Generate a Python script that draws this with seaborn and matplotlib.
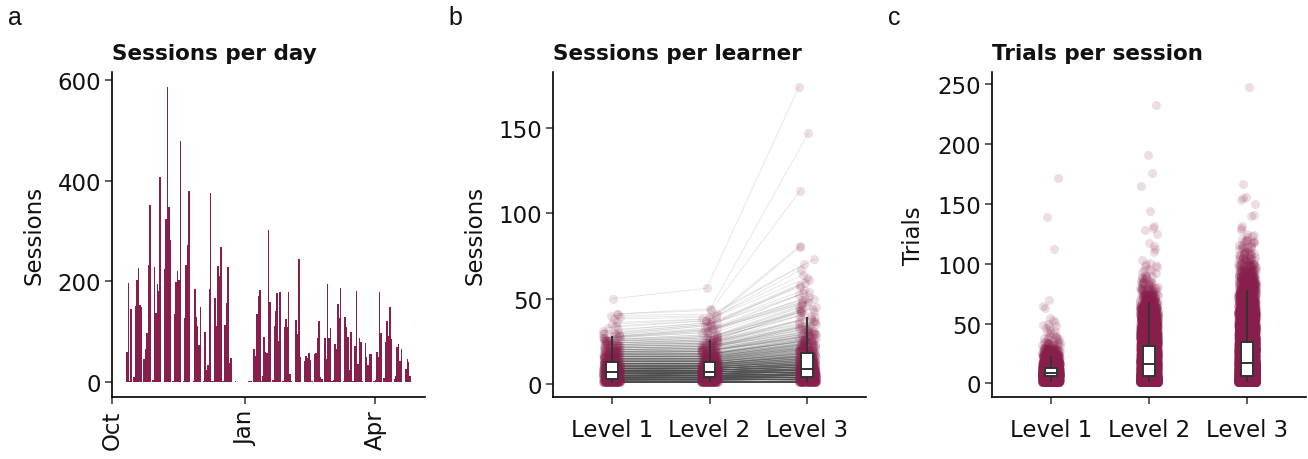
import numpy as np
import pandas as pd
import seaborn as sns
import matplotlib.pyplot as plt

maroon = '#881E4C'
levels = ['Level 1', 'Level 2', 'Level 3']

# a: sessions per day, one value per day starting 11 Oct
first_day = '2022-10-11'
daily_sessions = [
    59, 196, 3, 145, 0, 10, 152, 202, 226, 154,
    150, 0, 46, 65, 97, 232, 352, 0, 4, 228,
    137, 194, 180, 408, 0, 0, 224, 323, 586, 348,
    283, 0, 2, 135, 198, 220, 202, 479, 0, 2,
    127, 232, 273, 380, 0, 0, 2, 184, 129, 111,
    73, 150, 0, 2, 99, 24, 34, 184, 376, 2,
    2, 168, 111, 230, 210, 269, 2, 2, 113, 158,
    228, 38, 48, 0, 0, 2, 0, 0, 0, 0,
    0, 0, 0, 0, 2, 2, 2, 0, 65, 53,
    135, 172, 182, 2, 12, 89, 59, 57, 301, 160,
    0, 4, 111, 141, 176, 81, 178, 0, 2, 109,
    125, 109, 178, 16, 2, 0, 0, 123, 95, 244,
    50, 0, 0, 42, 53, 48, 57, 44, 2, 0,
    55, 57, 87, 121, 10, 6, 0, 87, 46, 194,
    87, 107, 2, 4, 75, 65, 156, 127, 186, 0,
    2, 129, 109, 89, 24, 99, 2, 2, 71, 180,
    36, 87, 79, 2, 0, 77, 50, 34, 55, 55,
    0, 2, 4, 59, 51, 178, 97, 0, 8, 79,
    121, 91, 150, 85, 0, 6, 12, 69, 75, 42,
    65, 0, 0, 26, 46, 40, 12,
]
month_ticks = ['2022-10-01', '2023-01-01', '2023-04-01']

# b: sessions per learner -> number of learners with 1, 2, 3, ... sessions, plus sparse tail
sess_counts_l1 = [52, 48, 44, 41, 39, 36, 33, 30, 26, 23, 20, 18, 16, 14, 13,
                  12, 11, 10, 9, 8, 7, 6, 6, 5, 5, 4, 4, 3, 3, 2]
sess_tail_l1 = [31, 32, 33, 34, 35, 36, 38, 39, 40, 41, 41, 50]
sess_counts_l2 = [50, 45, 42, 40, 38, 36, 34, 32, 28, 25, 21, 18, 16, 14, 13,
                  12, 10, 9, 8, 7, 6, 6, 5, 5, 4, 4, 3, 3, 2, 2]
sess_tail_l2 = [31, 31, 32, 32, 33, 33, 34, 34, 35, 35, 36, 36, 37, 37, 38, 38,
                39, 40, 41, 43, 44, 56]
sess_counts_l3 = [45, 40, 36, 33, 31, 29, 27, 25, 23, 21, 19, 17, 15, 14, 13,
                  12, 11, 10, 9, 9, 8, 8, 7, 7, 6, 6, 5, 5, 4, 4,
                  4, 3, 3, 3, 2, 2, 2, 2, 2, 1]
sess_tail_l3 = [41, 42, 42, 42, 43, 43, 44, 44, 45, 45, 46, 46, 47, 48, 48, 49,
                50, 50, 51, 52, 53, 54, 55, 57, 58, 59, 61, 62, 64, 67, 70, 73,
                80, 81, 113, 147, 174]

# c: trials per session -> sessions per 5-trial bin (1-5, 6-10, ...), plus sparse tail
trial_bins_l1 = [700, 1300, 550, 220, 110, 50, 20, 10, 5, 5]
trial_tail_l1 = [51, 53, 55, 63, 65, 70, 112, 139, 172]
trial_bins_l2 = [1500, 900, 600, 600, 500, 430, 360, 300, 240, 190, 150, 110,
                 80, 55, 40, 25, 15, 10, 5, 5]
trial_tail_l2 = [101, 103, 110, 112, 115, 117, 125, 128, 130, 132, 144, 165,
                 176, 191, 233]
trial_bins_l3 = [2400, 1400, 1100, 850, 750, 650, 560, 480, 400, 340, 280, 230,
                 185, 150, 120, 95, 75, 55, 40, 30, 20, 15, 10, 10, 5]
trial_tail_l3 = [128, 130, 132, 140, 141, 150, 153, 155, 156, 167, 248]


def from_counts(counts, tail):
    vals = np.repeat(np.arange(1, len(counts) + 1), counts)
    return np.sort(np.concatenate([vals, tail]))


def from_bins(bins, tail):
    per_value = np.repeat(np.asarray(bins) // 5, 5)
    vals = np.repeat(np.arange(1, len(per_value) + 1), per_value)
    return np.concatenate([vals, tail])


sns.set_theme(style='ticks')
plt.rcParams['font.family'] = ['DejaVu Sans']
plt.rcParams.update({
    'axes.edgecolor': 'black', 'axes.linewidth': 1.2,
    'xtick.color': '#333333', 'ytick.color': '#333333',
    'xtick.labelcolor': '#111111', 'ytick.labelcolor': '#111111',
    'xtick.major.size': 5, 'ytick.major.size': 5,
    'xtick.major.width': 1.1, 'ytick.major.width': 1.1,
    'xtick.major.pad': 4, 'ytick.major.pad': 3,
    'xtick.labelsize': 16.5, 'ytick.labelsize': 16.5,
    'axes.labelsize': 16.5, 'axes.labelcolor': '#111111',
})
title_kw = dict(loc='left', fontweight='bold', fontsize=15.5, pad=9, color='#111111')

fig = plt.figure(figsize=(13.08, 4.6), dpi=100)
W, H = 1308, 460
ax_a = fig.add_axes([112 / W, 62 / H, 313 / W, 325 / H])
ax_b = fig.add_axes([553 / W, 62 / H, 313 / W, 325 / H])
ax_c = fig.add_axes([992 / W, 62 / H, 314 / W, 325 / H])

# ---- a: sessions per day
origin = pd.Timestamp('2022-10-01')
dates = pd.date_range(first_day, periods=len(daily_sessions), freq='D')
day_num = np.asarray((dates - origin).days)
sns.barplot(x=day_num, y=daily_sessions, native_scale=True, width=1.0,
            color=maroon, saturation=1, linewidth=0, errorbar=None, ax=ax_a)
for bar in ax_a.patches:
    bar.set_antialiased(False)  # avoid hairline seams between adjacent days
lo, hi = day_num.min() - 0.45, day_num.max() + 0.45
ax_a.set_xlim(lo - 0.05 * (hi - lo), hi + 0.05 * (hi - lo))
ymax = max(daily_sessions)
ax_a.set_ylim(-0.05 * ymax, 1.05 * ymax)
ticks = pd.to_datetime(month_ticks)
ax_a.set_xticks(np.asarray((ticks - origin).days))
ax_a.set_xticklabels(ticks.strftime('%b'), rotation=90)
ax_a.set_yticks([0, 200, 400, 600])
ax_a.set_xlabel('')
ax_a.set_ylabel('Sessions')
ax_a.set_title('Sessions per day', **title_kw)

# ---- b: sessions per learner (learners paired by rank across levels)
learners = pd.DataFrame({
    'Level 1': from_counts(sess_counts_l1, sess_tail_l1),
    'Level 2': from_counts(sess_counts_l2, sess_tail_l2),
    'Level 3': from_counts(sess_counts_l3, sess_tail_l3),
})
long = learners.reset_index().melt(id_vars='index', var_name='level', value_name='sessions')
rng = np.random.default_rng(3)
long['pos'] = long['level'].map({l: i for i, l in enumerate(levels)}) \
    + rng.uniform(-0.09, 0.09, len(long))

sns.boxplot(data=long, x='level', y='sessions', order=levels, width=0.12,
            color='white', linecolor='#333333', linewidth=1.4, showfliers=False,
            showcaps=False, ax=ax_b, boxprops=dict(zorder=5),
            whiskerprops=dict(zorder=5), medianprops=dict(zorder=6, color='#333333'))
sns.lineplot(data=long, x='pos', y='sessions', units='index', estimator=None,
             color='#4d4d4d', alpha=0.15, lw=0.6, ax=ax_b, zorder=1)
sns.scatterplot(data=long, x='pos', y='sessions', color=maroon, alpha=0.15, s=42,
                linewidth=0, ax=ax_b, zorder=2)
smax = long['sessions'].max()
smin = long['sessions'].min()
ax_b.set_ylim(smin - 0.05 * (smax - smin), smax + 0.05 * (smax - smin))
ax_b.set_xlim(-0.6, 2.6)
ax_b.set_xticks(range(3))
ax_b.set_xticklabels(levels)
ax_b.set_yticks([0, 50, 100, 150])
ax_b.set_xlabel('')
ax_b.set_ylabel('Sessions')
ax_b.set_title('Sessions per learner', **title_kw)

# ---- c: trials per session
trials = pd.concat([
    pd.DataFrame({'level': 'Level 1', 'trials': from_bins(trial_bins_l1, trial_tail_l1)}),
    pd.DataFrame({'level': 'Level 2', 'trials': from_bins(trial_bins_l2, trial_tail_l2)}),
    pd.DataFrame({'level': 'Level 3', 'trials': from_bins(trial_bins_l3, trial_tail_l3)}),
], ignore_index=True)
np.random.seed(7)
sns.stripplot(data=trials, x='level', y='trials', order=levels, jitter=0.09,
              size=6.5, alpha=0.15, color=maroon, linewidth=0, ax=ax_c, zorder=2)
sns.boxplot(data=trials, x='level', y='trials', order=levels, width=0.12,
            color='white', linecolor='#333333', linewidth=1.4, showfliers=False,
            showcaps=False, ax=ax_c, boxprops=dict(zorder=5),
            whiskerprops=dict(zorder=5), medianprops=dict(zorder=6, color='#333333'))
tmax, tmin = trials['trials'].max(), trials['trials'].min()
ax_c.set_ylim(tmin - 0.05 * (tmax - tmin), tmax + 0.05 * (tmax - tmin))
ax_c.set_xlim(-0.6, 2.6)
ax_c.set_yticks([0, 50, 100, 150, 200, 250])
ax_c.set_xlabel('')
ax_c.set_ylabel('Trials')
ax_c.set_title('Trials per session', **title_kw)

for ax in (ax_a, ax_b, ax_c):
    sns.despine(ax=ax)
    ax.yaxis.set_label_coords(-0.213, 0.5)
for ax in (ax_b, ax_c):
    ax.tick_params(axis='x', pad=10)

for x, letter in [(8, 'a'), (448, 'b'), (888, 'c')]:
    fig.text(x / W, 1 - 18 / H, letter, fontsize=18, va='center', ha='left',
             family=['Liberation Sans', 'DejaVu Sans'], color='#111111')

fig.savefig('out.png', dpi=100)
